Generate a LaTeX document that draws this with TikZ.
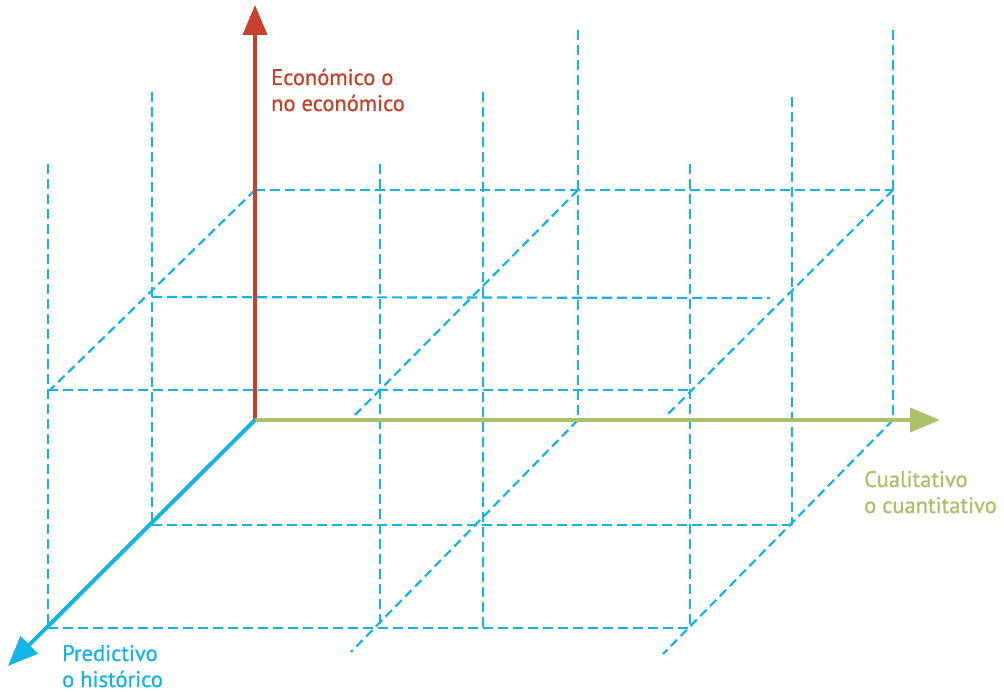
\documentclass[tikz,border=0pt]{standalone}
\usepackage{fontspec}
\setmainfont{PT Sans}[FakeBold=0.8]
\usetikzlibrary{arrows.meta}
\definecolor{axred}{HTML}{C8412A}
\definecolor{axblue}{HTML}{14B3E8}
\definecolor{axgreen}{HTML}{AAC16A}
\begin{document}
\begin{tikzpicture}[x=1pt,y=-1pt,
  grid/.style={axblue, line width=2.2pt, dash pattern=on 10pt off 5pt},
  diag/.style={axblue, line width=2.2pt, dash pattern=on 9pt off 5pt},
  axis/.style={line width=4pt, -{Triangle[length=30pt,width=24pt]}},
  lab/.style={font=\fontsize{22.5}{26}\selectfont, inner sep=0pt, anchor=base west, align=left}]
\useasboundingbox (0,0) rectangle (1004,692);
\coordinate (O) at (255,420);
\coordinate (Rtip) at (255,5);
\coordinate (Gtip) at (940,420);
\coordinate (Btip) at (8,666);
% vertical dashed lines
\draw[grid] (48,164) -- (48,628);
\draw[grid] (152,92) -- (152,525);
\draw[grid] (380,164) -- (380,628);
\draw[grid] (483,92) -- (483,628);
\draw[grid] (578,30) -- (578,420);
\draw[grid] (690,164) -- (690,628);
\draw[grid] (792,97) -- (792,525);
\draw[grid] (893,30) -- (893,420);
% horizontal dashed lines
\draw[grid] (255,190) -- (893,190);
\draw[grid] (152,297) -- (770,298);
\draw[grid] (48,390) -- (690,390);
\draw[grid] (152,525) -- (792,525);
\draw[grid] (48,628) -- (690,628);
% diagonals
\draw[diag] (255,190) -- (50,390);
\draw[diag] (578,190) -- (355,415);
\draw[diag] (893,190) -- (665,417);
\draw[diag] (578,420) -- (351,652);
\draw[diag] (893,420) -- (663,654);
% axes
\draw[axis, axred] (O) -- (Rtip);
\draw[axis, axgreen] (O) -- (Gtip);
\draw[axis, axblue] (O) -- (Btip);
% labels (anchor at baseline of the last line)
\node[lab, text=axred] (lr) at (271,111) {Económico o\\no económico};
\node[lab, text=axgreen] (lg) at (864,513) {Cualitativo\\o cuantitativo};
\node[lab, text=axblue] (lb) at (62,687) {Predictivo\\o histórico};
\end{tikzpicture}
\end{document}
